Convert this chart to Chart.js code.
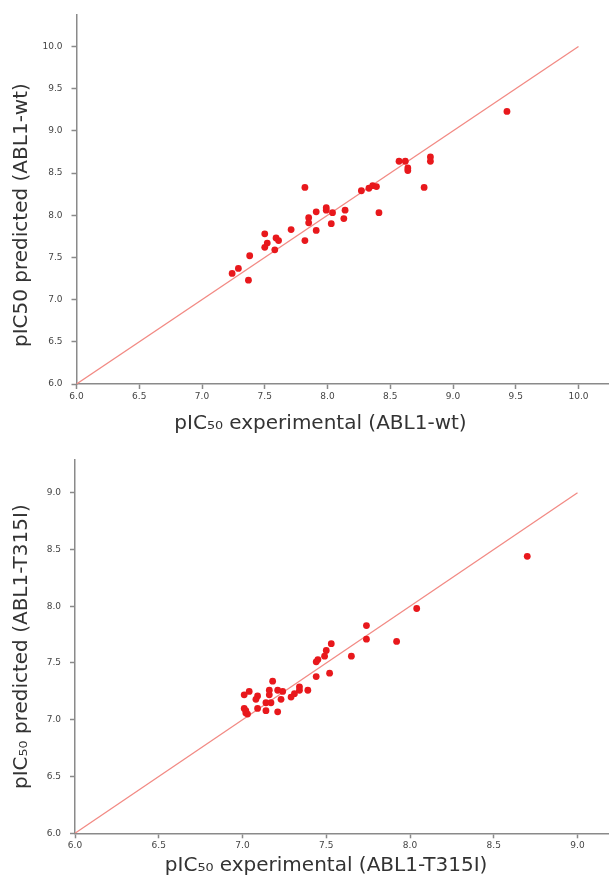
<!DOCTYPE html>
<html>
<head>
<meta charset="utf-8">
<script src="https://cdn.jsdelivr.net/npm/chart.js@4/dist/chart.umd.min.js"></script>
<style>
  html, body { margin: 0; padding: 0; background: #fff; }
  canvas { display: block; }
</style>
</head>
<body>
<canvas id="wtChart" width="609" height="440"></canvas>
<canvas id="t315Chart" width="609" height="439"></canvas>
<script>
// ABL1-wt
const wtExp  = [9.43, 8.57, 8.62, 8.64, 8.64, 8.82, 8.82, 8.77, 8.27, 8.33, 8.36, 8.39, 8.41, 7.82, 7.99, 7.99, 8.04, 8.14,
                8.13, 8.03, 7.91, 7.91, 7.85, 7.85, 7.71, 7.82, 7.50, 7.52, 7.50, 7.59, 7.61, 7.58, 7.38, 7.29, 7.24, 7.37];
const wtPred = [9.23, 8.64, 8.64, 8.56, 8.53, 8.69, 8.64, 8.33, 8.29, 8.32, 8.35, 8.34, 8.03, 8.33, 8.09, 8.06, 8.03, 8.06,
                7.96, 7.90, 8.04, 7.82, 7.97, 7.91, 7.83, 7.70, 7.78, 7.67, 7.62, 7.73, 7.70, 7.59, 7.52, 7.37, 7.31, 7.23];
const wtLine = [6, 10];
const wtTicks = [6.0, 6.5, 7.0, 7.5, 8.0, 8.5, 9.0, 9.5, 10.0];

// ABL1-T315I
const t315Exp  = [8.70, 8.04, 7.74, 7.74, 7.92, 7.65, 7.53, 7.50, 7.49, 7.45, 7.44, 7.52, 7.44, 7.39, 7.34, 7.34, 7.31, 7.29, 7.24,
                  7.21, 7.23, 7.21, 7.18, 7.16, 7.16, 7.17, 7.14, 7.14, 7.09, 7.08, 7.09, 7.04, 7.01, 7.01, 7.02, 7.03, 7.02];
const t315Pred = [8.44, 7.98, 7.83, 7.71, 7.69, 7.56, 7.67, 7.61, 7.56, 7.53, 7.51, 7.41, 7.38, 7.26, 7.29, 7.26, 7.23, 7.20, 7.25,
                  7.26, 7.18, 7.07, 7.34, 7.26, 7.22, 7.15, 7.15, 7.08, 7.21, 7.18, 7.10, 7.25, 7.22, 7.10, 7.06, 7.05, 7.08];
const t315Line = [6, 9];
const t315Ticks = [6.0, 6.5, 7.0, 7.5, 8.0, 8.5, 9.0];

const FONT = "'DejaVu Sans', sans-serif";
const AXIS_GRAY = "#8a8a8a";

function axis(min, max, ticks, title, titlePad, size, isX) {
  return {
    type: "linear",
    min: min,
    max: max,
    afterBuildTicks: (s) => { s.ticks = ticks.map(v => ({ value: v })); },
    afterFit: (s) => { if (isX) s.height = size; else s.width = size; },
    border: { color: AXIS_GRAY, width: 1.5 },
    grid: { drawOnChartArea: false, drawTicks: true, tickLength: 5, tickWidth: 1.5, color: AXIS_GRAY },
    ticks: {
      padding: isX ? 2 : 9,
      color: "#444",
      font: { family: FONT, size: 9 },
      callback: (v) => Number(v).toFixed(1)
    },
    title: {
      display: true,
      text: title,
      color: "#333",
      font: { family: FONT, size: 20 },
      padding: titlePad
    }
  };
}

function makePlot(id, exp, pred, line, opts) {
  const points = exp.map((x, i) => ({ x: x, y: pred[i] }));
  const diag = line.map(v => ({ x: v, y: v }));
  return new Chart(document.getElementById(id), {
    type: "scatter",
    data: {
      datasets: [
        {
          data: points,
          backgroundColor: "#e8181c",
          borderWidth: 0,
          pointRadius: 3.4
        },
        {
          type: "line",
          data: diag,
          borderColor: "#f28a84",
          borderWidth: 1.3,
          pointRadius: 0,
          fill: false
        }
      ]
    },
    options: {
      responsive: false,
      animation: false,
      layout: { autoPadding: false, padding: { top: opts.top, left: 0, right: 0, bottom: 0 } },
      plugins: { legend: { display: false }, tooltip: { enabled: false } },
      scales: {
        x: axis(6, opts.xMax, opts.ticks, opts.xTitle, { top: 0, bottom: opts.xTitlePad }, opts.xHeight, true),
        y: axis(6, opts.yMax, opts.ticks, opts.yTitle, { top: 10, bottom: 0 }, opts.yWidth, false)
      }
    }
  });
}

makePlot("wtChart", wtExp, wtPred, wtLine, {
  top: 12, xMax: 10.243, yMax: 10.38, ticks: wtTicks,
  xTitle: "pIC\u2085\u2080 experimental (ABL1-wt)       ",
  yTitle: "pIC50 predicted (ABL1-wt)     ",
  xTitlePad: 4, xHeight: 56, yWidth: 76.5
});

makePlot("t315Chart", t315Exp, t315Pred, t315Line, {
  top: 20, xMax: 9.188, yMax: 9.288, ticks: t315Ticks,
  xTitle: "pIC\u2085\u2080 experimental (ABL1-T315I)     ",
  yTitle: "pIC\u2085\u2080 predicted (ABL1-T315I)",
  xTitlePad: 1, xHeight: 45.7, yWidth: 75
});
</script>
</body>
</html>
